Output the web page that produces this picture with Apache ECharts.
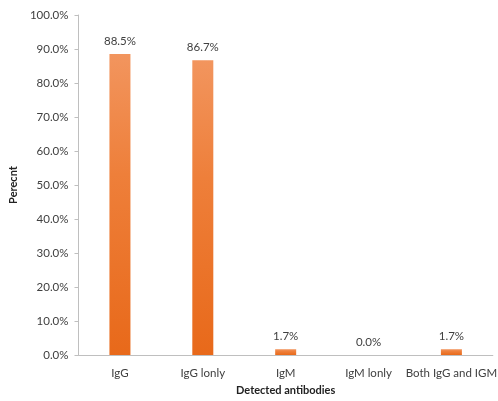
<!DOCTYPE html>
<html>
<head>
<meta charset="utf-8">
<script src="https://cdn.jsdelivr.net/npm/echarts@6/dist/echarts.min.js"></script>
<style>html,body{margin:0;padding:0;background:#fff;}#c{width:498px;height:401px;}</style>
</head>
<body>
<div id="c"></div>
<script>
const categories = ['IgG', 'IgG lonly', 'IgM', 'IgM lonly', 'Both IgG and IGM'];
const percentValues = [88.5, 86.7, 1.7, 0.0, 1.7];
const yTicks = [0, 10, 20, 30, 40, 50, 60, 70, 80, 90, 100];

const chart = echarts.init(document.getElementById('c'));
const font = 'Lato, "Open Sans", sans-serif';
chart.setOption({
  animation: false,
  grid: { left: 67.5, top: 15, width: 435, height: 344, containLabel: false },
  xAxis: {
    type: 'category',
    data: categories,
    name: 'Detected antibodies',
    nameLocation: 'middle',
    nameGap: 30,
    nameTextStyle: { fontFamily: font, fontSize: 11, fontWeight: 'bold', color: '#222' },
    axisLine: { lineStyle: { color: '#bfbfbf', width: 1 } },
    axisTick: { show: false },
    axisLabel: { fontFamily: font, fontSize: 11.5, color: '#404040', margin: 12, interval: 0 }
  },
  yAxis: {
    type: 'value',
    min: yTicks[0],
    max: yTicks[yTicks.length - 1],
    interval: 10,
    name: 'Perecnt',
    nameLocation: 'middle',
    nameGap: 50,
    nameRotate: 90,
    nameTextStyle: { fontFamily: font, fontSize: 11, fontWeight: 'bold', color: '#222' },
    axisLine: { show: true, lineStyle: { color: '#bfbfbf', width: 1 } },
    axisTick: { show: true, length: 4, lineStyle: { color: '#bfbfbf' } },
    splitLine: { show: false },
    axisLabel: { fontFamily: font, fontSize: 11.5, color: '#404040', margin: 10, formatter: v => v.toFixed(1) + '%' }
  },
  series: [{
    type: 'bar',
    data: percentValues,
    barWidth: 21,
    itemStyle: {
      color: new echarts.graphic.LinearGradient(0, 0, 0, 1, [
        { offset: 0, color: '#f2955e' },
        { offset: 0.4, color: '#ee7f3a' },
        { offset: 1, color: '#e8691a' }
      ])
    },
    label: {
      show: true,
      position: 'top',
      distance: 7,
      fontFamily: font,
      fontSize: 11.5,
      color: '#404040',
      formatter: p => p.value.toFixed(1) + '%'
    }
  }]
});
</script>
</body>
</html>
